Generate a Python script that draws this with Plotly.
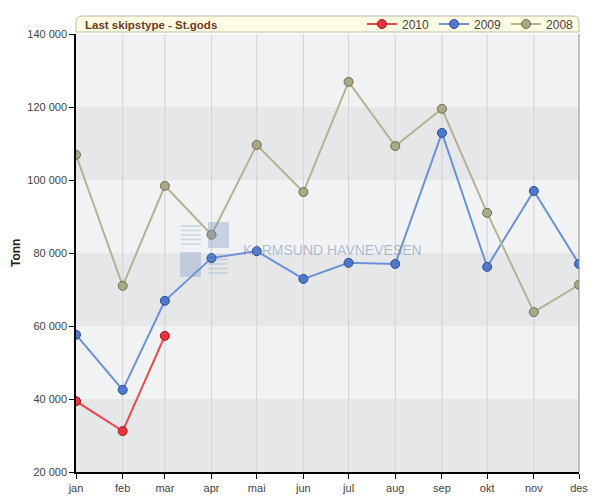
import plotly.graph_objects as go

months = ["jan", "feb", "mar", "apr", "mai", "jun", "jul", "aug", "sep", "okt", "nov", "des"]
dates = ["2009-%02d-01" % m for m in range(1, 13)]

s2008 = [106900, 71000, 98400, 85000, 109600, 96700, 126900, 109300, 119500, 91000, 63800, 71300]
s2009 = [57600, 42500, 66900, 78600, 80500, 72900, 77300, 77000, 112900, 76200, 97000, 77000]
s2010 = [39400, 31200, 57300]

yticks = [20000, 40000, 60000, 80000, 100000, 120000, 140000]

L, R, T, B = 76, 579, 34, 472
W, H = 600, 500


def px(x):
    return (x - L) / (R - L)


def py(y):
    return (B - y) / (B - T)


fig = go.Figure()

series = [
    ("2010", dates[:3], s2010, "#e8484a", "#e8343a", "#a01818"),
    ("2009", dates, s2009, "#6d91d8", "#5079cc", "#2a4c96"),
    ("2008", dates, s2008, "#b3b391", "#a9a986", "#6c6c52"),
]
for name, xs, ys, lc, fc, bc in series:
    fig.add_trace(go.Scatter(
        x=xs, y=ys, name=name, mode="lines+markers",
        line=dict(color=lc, width=2),
        marker=dict(size=9, color=fc, line=dict(color=bc, width=1)),
    ))

shapes = []
# background bands
for i in range(len(yticks) - 1):
    shapes.append(dict(type="rect", xref="paper", yref="y", x0=0, x1=1,
                       y0=yticks[i], y1=yticks[i + 1], layer="below", line_width=0,
                       fillcolor="#e6e7e9" if i % 2 == 0 else "#f1f2f4"))
# vertical grid
for d in dates[1:-1]:
    shapes.append(dict(type="line", xref="x", yref="paper", x0=d, x1=d, y0=0, y1=1,
                       layer="below", line=dict(color="#d2d2d2", width=1)))
# right border
shapes.append(dict(type="line", xref="paper", yref="paper", x0=1, x1=1, y0=0, y1=1,
                   line=dict(color="#8a8a8a", width=1)))

# watermark logo (faded)
wm = "rgba(120,150,190,0.35)"
shapes.append(dict(type="rect", xref="paper", yref="paper", x0=px(208), x1=px(229),
                   y0=py(248), y1=py(222), fillcolor=wm, line_width=0, layer="above"))
shapes.append(dict(type="rect", xref="paper", yref="paper", x0=px(180), x1=px(201),
                   y0=py(277), y1=py(252), fillcolor=wm, line_width=0, layer="above"))
for k in range(5):
    yy = 226 + k * 4.5
    shapes.append(dict(type="line", xref="paper", yref="paper", x0=px(181), x1=px(201),
                       y0=py(yy), y1=py(yy), line=dict(color="rgba(130,160,190,0.35)", width=1.5)))
    yy2 = 255 + k * 4.5
    shapes.append(dict(type="line", xref="paper", yref="paper", x0=px(208), x1=px(228),
                       y0=py(yy2), y1=py(yy2), line=dict(color="rgba(130,160,190,0.35)", width=1.5)))

# header box with rounded top corners
r = 6
x0, x1, y0, y1 = L, R, 32, 16
path = (f"M {px(x0)},{py(y0)} L {px(x0)},{py(y1 + r)} "
        f"Q {px(x0)},{py(y1)} {px(x0 + r)},{py(y1)} "
        f"L {px(x1 - r)},{py(y1)} Q {px(x1)},{py(y1)} {px(x1)},{py(y1 + r)} "
        f"L {px(x1)},{py(y0)} Z")
shapes.append(dict(type="path", xref="paper", yref="paper", path=path,
                   fillcolor="#fffde3", line=dict(color="#b9b8a6", width=1)))

fig.update_layout(
    width=W, height=H,
    margin=dict(l=L, r=W - R, t=T, b=H - B, autoexpand=False),
    paper_bgcolor="white",
    plot_bgcolor="#f1f2f4",
    separators=", ",
    font=dict(family="Liberation Sans, Arial, sans-serif", size=11, color="#444444"),
    shapes=shapes,
    showlegend=True,
    legend=dict(orientation="h", x=1, xanchor="right", y=py(24), yanchor="middle",
                bgcolor="rgba(0,0,0,0)", font=dict(size=12, color="#444444"),
                traceorder="normal", itemwidth=30, tracegroupgap=0),
    annotations=[
        dict(text="<b>Last skipstype - St.gods</b>", xref="paper", yref="paper",
             x=px(83), y=py(24.5), xanchor="left", yanchor="middle", showarrow=False,
             font=dict(size=11.5, color="#6b3a1c")),
        dict(text="KARMSUND HAVNEVESEN", xref="paper", yref="paper",
             x=px(241), y=py(250), xanchor="left", yanchor="middle", showarrow=False,
             font=dict(size=14, color="rgba(110,135,170,0.5)")),
        dict(text="<b>Tonn</b>", xref="paper", yref="paper",
             x=px(16), y=py(253), xanchor="center", yanchor="middle", showarrow=False,
             textangle=-90, font=dict(size=12, color="#222222")),
    ],
    xaxis=dict(
        type="date", automargin=False,
        range=[dates[0], dates[-1]],
        tickvals=dates, ticktext=months,
        showgrid=False, zeroline=False,
        showline=True, linecolor="#000000", linewidth=1.5,
        ticks="outside", ticklen=5, tickcolor="#000000",
        tickfont=dict(size=11, color="#444444"),
    ),
    yaxis=dict(
        automargin=False,
        range=[20000, 140000],
        tickvals=yticks, tickformat=",d",
        showgrid=False, zeroline=False,
        showline=True, linecolor="#000000", linewidth=1.5,
        ticks="outside", ticklen=5, tickcolor="#000000",
        tickfont=dict(size=11, color="#444444"),
    ),
)

fig.write_html("out.html")
